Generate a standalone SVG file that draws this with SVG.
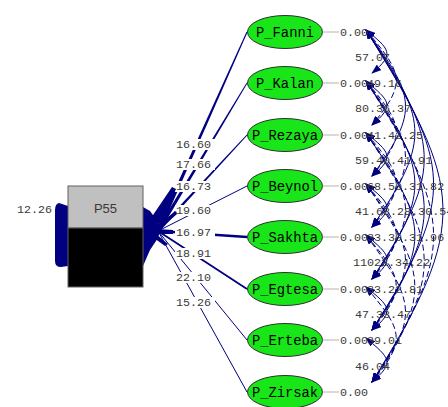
<svg xmlns="http://www.w3.org/2000/svg" width="448" height="407" viewBox="0 0 448 407">
  <style>
    .lat ellipse { fill: #19e619; stroke: #303030; stroke-width: 1; }
    .nm { font-family: "Liberation Mono", "DejaVu Sans Mono", monospace; font-size: 13.8px; fill: #000; text-anchor: middle; }
    .num { font-family: "Liberation Mono", "DejaVu Sans Mono", monospace; font-size: 11.7px; fill: #3a3a3a; }
    .tick { stroke: #b4b4b4; stroke-width: 1; }
    .path { stroke: #000080; fill: none; stroke-linecap: butt; }
    .cov { stroke: #000080; fill: none; stroke-width: 1; marker-start: url(#ah); marker-end: url(#ah); }
    .cov.d { stroke-dasharray: 6 3; }
    .blot { fill: #000080; }
    .lblbg { fill: #fff; }
  </style>
  <defs>
    <marker id="ah" markerUnits="userSpaceOnUse" markerWidth="10" markerHeight="7" refX="9" refY="3.5" orient="auto-start-reverse">
      <path d="M0,0 L10,3.5 L0,7 z" fill="#000080"/>
    </marker>
  </defs>
  <rect width="448" height="407" fill="#fff"/>

  <!-- loadings from P55 to the latent variables -->
  <g id="connectors">
    <!-- tapered loadings (thin at the ellipse, wide at P55) -->
    <path class="blot" d="M247.5,32.2 L159.8,231.8 L156.2,230.2 L246.5,31.8 Z"/>
    <path class="blot" d="M247.4,83.3 L159.5,231.9 L156.5,230.1 L246.6,82.7 Z"/>
    <path class="blot" d="M247.4,135.3 L159.1,232 L156.9,230 L246.6,134.7 Z"/>
    <line class="path" x1="247" y1="186" x2="158" y2="231" stroke-width="1"/>
    <line class="path" x1="247" y1="237" x2="158" y2="231" stroke-width="2.4"/>
    <line class="path" x1="247" y1="289" x2="158" y2="231" stroke-width="1.8"/>
    <line class="path" x1="247" y1="340" x2="158" y2="231" stroke-width="1"/>
    <line class="path" x1="247" y1="392" x2="158" y2="231" stroke-width="1"/>

    <!-- label backgrounds interrupting the loading lines -->
    <rect class="lblbg" x="175" y="139" width="40" height="11"/>
    <rect class="lblbg" x="175" y="159" width="40" height="11"/>
    <rect class="lblbg" x="175" y="181" width="40" height="11"/>
    <rect class="lblbg" x="175" y="205" width="40" height="11"/>
    <rect class="lblbg" x="175" y="227" width="40" height="11"/>
    <rect class="lblbg" x="175" y="248" width="40" height="11"/>
    <rect class="lblbg" x="175" y="272" width="40" height="11"/>
    <rect class="lblbg" x="175" y="297" width="40" height="11"/>

    <!-- converging arrowheads at P55 -->
    <path class="blot" d="M143,207 L150,211 L158,222 L160,231 L158,238 L150,250 L143,266 Z"/>
    <path class="blot" d="M151,218 L172,187 L176,189 L160,225 Z"/>
    <path class="blot" d="M157,225 L176,211 L177,214 L160,229 Z"/>
    <path class="blot" d="M157,229 L173,230 L173,234 L157,234 Z"/>
    <path class="blot" d="M156,234 L168,244 L165,246 L154,238 Z"/>

    <!-- variance loop on P55 -->
    <path class="blot" d="M68,206 L59,203 Q55,204 55,210 L55,261 Q55,267 61,267 L68,266 Z"/>

    <!-- error covariances -->
    <path class="cov" d="M366,30 C389.5,49 395.5,54 372,73"/>
    <path class="cov d" d="M366,30 C402,73 408,82 372,125"/>
    <path class="cov" d="M366,30 C414.5,96 420.5,110 372,176"/>
    <path class="cov" d="M366,30 C427,119 433,138 372,227"/>
    <path class="cov" d="M366,30 C439.5,142 445.5,167 372,279"/>
    <path class="cov" d="M366,30 C452,165 458,195 372,330"/>
    <path class="cov" d="M366,30 C464.5,188 470.5,224 372,382"/>

    <path class="cov" d="M366,81 C389.5,101 395.5,105 372,125"/>
    <path class="cov d" d="M366,81 C402,124 408,133 372,176"/>
    <path class="cov d" d="M366,81 C414.5,147 420.5,161 372,227"/>
    <path class="cov" d="M366,81 C427,170 433,190 372,279"/>
    <path class="cov" d="M366,81 C439.5,193 445.5,218 372,330"/>
    <path class="cov d" d="M366,81 C452,216 458,247 372,382"/>

    <path class="cov" d="M366,133 C389.5,152 395.5,157 372,176"/>
    <path class="cov d" d="M366,133 C402,175 408,185 372,227"/>
    <path class="cov d" d="M366,133 C414.5,199 420.5,213 372,279"/>
    <path class="cov" d="M366,133 C427,222 433,241 372,330"/>
    <path class="cov d" d="M366,133 C439.5,245 445.5,270 372,382"/>

    <path class="cov" d="M366,184 C389.5,203 395.5,208 372,227"/>
    <path class="cov d" d="M366,184 C402,227 408,236 372,279"/>
    <path class="cov d" d="M366,184 C414.5,250 420.5,264 372,330"/>
    <path class="cov d" d="M366,184 C427,273 433,293 372,382"/>

    <path class="cov" d="M366,235 C389.5,255 395.5,259 372,279"/>
    <path class="cov d" d="M366,235 C402,278 408,287 372,330"/>
    <path class="cov d" d="M366,235 C414.5,301 420.5,316 372,382"/>

    <path class="cov" d="M366,287 C389.5,306 395.5,311 372,330"/>
    <path class="cov d" d="M366,287 C402,330 408,339 372,382"/>

    <path class="cov" d="M366,338 C389.5,358 395.5,362 372,382"/>
  </g>

  <!-- observed variable -->
  <g id="P55">
    <rect x="68" y="186" width="75" height="42" fill="#c0c0c0" stroke="#606060" stroke-width="1"/>
    <rect x="68" y="228" width="75" height="59" fill="#000" stroke="#606060" stroke-width="1"/>
    <text x="105.5" y="213" text-anchor="middle" font-family="Liberation Sans, Arial, sans-serif" font-size="13" fill="#3a3a3a">P55</text>
    <text class="num" x="17" y="213">12.26</text>
  </g>

  <!-- latent variables -->
  <g id="P_Fanni" class="lat">
    <ellipse cx="285" cy="32" rx="37.5" ry="16.5"/>
    <text class="nm" x="285" y="37">P_Fanni</text>
    <line class="tick" x1="322.5" y1="32" x2="339" y2="32"/>
    <text class="num" x="340" y="36">0.00</text>
  </g>
  <g id="P_Kalan" class="lat">
    <ellipse cx="285" cy="83" rx="37.5" ry="16.5"/>
    <text class="nm" x="285" y="88">P_Kalan</text>
    <line class="tick" x1="322.5" y1="83" x2="339" y2="83"/>
    <text class="num" x="340" y="87">0.00</text>
  </g>
  <g id="P_Rezaya" class="lat">
    <ellipse cx="285" cy="135" rx="37.5" ry="16.5"/>
    <text class="nm" x="285" y="140">P_Rezaya</text>
    <line class="tick" x1="322.5" y1="135" x2="339" y2="135"/>
    <text class="num" x="340" y="139">0.00</text>
  </g>
  <g id="P_Beynol" class="lat">
    <ellipse cx="285" cy="186" rx="37.5" ry="16.5"/>
    <text class="nm" x="285" y="191">P_Beynol</text>
    <line class="tick" x1="322.5" y1="186" x2="339" y2="186"/>
    <text class="num" x="340" y="190">0.00</text>
  </g>
  <g id="P_Sakhta" class="lat">
    <ellipse cx="285" cy="237" rx="37.5" ry="16.5"/>
    <text class="nm" x="285" y="242">P_Sakhta</text>
    <line class="tick" x1="322.5" y1="237" x2="339" y2="237"/>
    <text class="num" x="340" y="241">0.00</text>
  </g>
  <g id="P_Egtesa" class="lat">
    <ellipse cx="285" cy="289" rx="37.5" ry="16.5"/>
    <text class="nm" x="285" y="294">P_Egtesa</text>
    <line class="tick" x1="322.5" y1="289" x2="339" y2="289"/>
    <text class="num" x="340" y="293">0.00</text>
  </g>
  <g id="P_Erteba" class="lat">
    <ellipse cx="285" cy="340" rx="37.5" ry="16.5"/>
    <text class="nm" x="285" y="345">P_Erteba</text>
    <line class="tick" x1="322.5" y1="340" x2="339" y2="340"/>
    <text class="num" x="340" y="344">0.00</text>
  </g>
  <g id="P_Zirsak" class="lat">
    <ellipse cx="285" cy="392" rx="37.5" ry="16.5"/>
    <text class="nm" x="285" y="397">P_Zirsak</text>
    <line class="tick" x1="322.5" y1="392" x2="339" y2="392"/>
    <text class="num" x="340" y="396">0.00</text>
  </g>

  <!-- loading values -->
  <g id="loading-labels">
    <text class="num" x="176" y="148">16.60</text>
    <text class="num" x="176" y="168">17.66</text>
    <text class="num" x="176" y="190">16.73</text>
    <text class="num" x="176" y="214">19.60</text>
    <text class="num" x="176" y="236">16.97</text>
    <text class="num" x="176" y="257">18.91</text>
    <text class="num" x="176" y="281">22.10</text>
    <text class="num" x="176" y="306">15.26</text>
  </g>

  <!-- covariance values -->
  <g id="covariance-labels">
    <text class="num" x="355" y="61">57.07</text>
    <text class="num" x="367" y="87">49.16</text>
    <text class="num" x="355" y="112">80.36.37</text>
    <text class="num" x="367" y="139">41.42.25</text>
    <text class="num" x="355" y="164">59.40.41.91</text>
    <text class="num" x="367" y="190">68.50.31.82</text>
    <text class="num" x="355" y="215">41.68.28.30.54</text>
    <text class="num" x="367" y="241">33.30.31.96</text>
    <text class="num" x="353" y="266">11023.34.22</text>
    <text class="num" x="367" y="293">33.22.81</text>
    <text class="num" x="355" y="318">47.33.47</text>
    <text class="num" x="367" y="344">39.01</text>
    <text class="num" x="355" y="370">46.04</text>
  </g>
</svg>
